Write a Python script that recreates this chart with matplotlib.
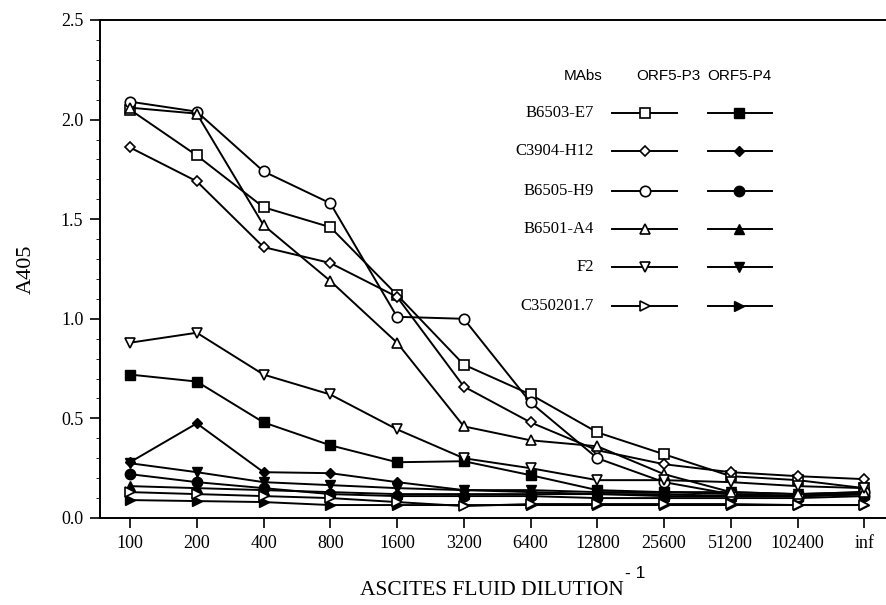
import matplotlib
matplotlib.use("Agg")
import matplotlib.pyplot as plt
from matplotlib.ticker import MultipleLocator

# ---------- data ----------
dilutions = ["100", "200", "400", "800", "1600", "3200", "6400",
             "12800", "25600", "51200", "102400", "inf"]
mabs = ["B6503-E7", "C3904-H12", "B6505-H9", "B6501-A4", "F2", "C350201.7"]
markers = ["s", "D", "o", "^", "v", ">"]

# ORF5-P3 (open markers)
p3_b6503_e7 = [2.05, 1.82, 1.56, 1.46, 1.12, 0.77, 0.62, 0.43, 0.32, 0.21, 0.19, 0.15]
p3_c3904_h12 = [1.86, 1.69, 1.36, 1.28, 1.11, 0.66, 0.48, 0.34, 0.27, 0.23, 0.21, 0.195]
p3_b6505_h9 = [2.09, 2.04, 1.74, 1.58, 1.01, 1.00, 0.58, 0.30, 0.18, 0.12, 0.11, 0.13]
p3_b6501_a4 = [2.06, 2.03, 1.47, 1.19, 0.88, 0.46, 0.39, 0.36, 0.22, 0.13, 0.12, 0.13]
p3_f2 = [0.88, 0.93, 0.72, 0.62, 0.445, 0.30, 0.25, 0.19, 0.19, 0.18, 0.16, 0.15]
p3_c350201_7 = [0.13, 0.12, 0.11, 0.10, 0.08, 0.06, 0.07, 0.07, 0.07, 0.07, 0.065, 0.065]

# ORF5-P4 (filled markers)
p4_b6503_e7 = [0.72, 0.685, 0.48, 0.365, 0.28, 0.285, 0.215, 0.14, 0.13, 0.12, 0.11, 0.12]
p4_c3904_h12 = [0.28, 0.475, 0.23, 0.225, 0.18, 0.14, 0.13, 0.12, 0.12, 0.11, 0.11, 0.12]
p4_b6505_h9 = [0.22, 0.18, 0.15, 0.12, 0.11, 0.11, 0.11, 0.10, 0.10, 0.10, 0.10, 0.11]
p4_b6501_a4 = [0.16, 0.15, 0.14, 0.13, 0.12, 0.12, 0.12, 0.12, 0.11, 0.11, 0.11, 0.12]
p4_f2 = [0.275, 0.23, 0.18, 0.165, 0.15, 0.14, 0.14, 0.13, 0.13, 0.13, 0.12, 0.13]
p4_c350201_7 = [0.09, 0.085, 0.08, 0.065, 0.065, 0.065, 0.065, 0.065, 0.065, 0.065, 0.065, 0.065]

p3 = [p3_b6503_e7, p3_c3904_h12, p3_b6505_h9, p3_b6501_a4, p3_f2, p3_c350201_7]
p4 = [p4_b6503_e7, p4_c3904_h12, p4_b6505_h9, p4_b6501_a4, p4_f2, p4_c350201_7]

serif = "Liberation Serif"
sans = "Liberation Sans"

fig = plt.figure(figsize=(8.87, 6.05), dpi=100)
ax = fig.add_axes([100 / 887, 1 - 518 / 605, 1 - 100 / 887, (518 - 20) / 605])

x = list(range(len(dilutions)))

def msize(m):
    return {"s": 7.5, "D": 5.5, "o": 7.5, "^": 7.5, "v": 7.5, ">": 7.5}[m]

for vals, m in zip(p4, markers):
    ax.plot(x, vals, color="black", lw=1.4, marker=m, ms=msize(m),
            mfc="black", mec="black", zorder=2)
for vals, m in zip(p3, markers):
    ax.plot(x, vals, color="black", lw=1.4, marker=m, ms=msize(m),
            mfc="white", mec="black", mew=1.2, zorder=3)

ax.set_xlim(-0.45, 11.34)
ax.set_ylim(0, 2.5)
ax.set_xticks(x)
ax.set_xticklabels(dilutions, fontfamily=serif, fontsize=13)
ax.yaxis.set_major_locator(MultipleLocator(0.5))
ax.yaxis.set_minor_locator(MultipleLocator(0.1))
ax.set_yticklabels([f"{v:.1f}" for v in ax.get_yticks()], fontfamily=serif, fontsize=13)
ax.tick_params(axis="both", which="major", direction="out", length=7, width=1.2, pad=5)
ax.tick_params(axis="y", which="minor", direction="out", length=3, width=0.6)
for side in ["left", "bottom", "top"]:
    ax.spines[side].set_linewidth(1.4)
ax.spines["right"].set_visible(False)

ax.set_ylabel("A405", fontfamily=serif, fontsize=16, labelpad=18)
fig.text(491.5 / 887, 10 / 605, "ASCITES FLUID DILUTION", fontfamily=serif, fontsize=15.5,
         ha="center", va="baseline")
fig.text(625 / 887, 27 / 605, "- 1", fontfamily=sans, fontsize=12.5, ha="left", va="baseline")

# ---------- hand-built legend ----------
def fx(px):
    return (px - 100) / (887 - 100)

def fy(py):
    return (518 - py) / (518 - 20)

ax.text(fx(583), fy(76), "MAbs", fontfamily=sans, fontsize=11, ha="center", va="center",
        transform=ax.transAxes)
ax.text(fx(668), fy(76), "ORF5-P3", fontfamily=sans, fontsize=11, ha="center", va="center",
        transform=ax.transAxes)
ax.text(fx(739), fy(76), "ORF5-P4", fontfamily=sans, fontsize=11, ha="center", va="center",
        transform=ax.transAxes)

row_y = [113, 151, 191, 229, 267, 306]
for name, m, ry in zip(mabs, markers, row_y):
    ax.text(fx(594), fy(ry), name, fontfamily=serif, fontsize=12, ha="right", va="center",
            transform=ax.transAxes)
    ax.plot([fx(612), fx(677)], [fy(ry), fy(ry)], color="black", lw=1.4,
            transform=ax.transAxes, clip_on=False)
    ax.plot([fx(645)], [fy(ry)], marker=m, ms=msize(m), mfc="white", mec="black", mew=1.2,
            color="black", transform=ax.transAxes, clip_on=False)
    ax.plot([fx(708), fx(772)], [fy(ry), fy(ry)], color="black", lw=1.4,
            transform=ax.transAxes, clip_on=False)
    ax.plot([fx(739)], [fy(ry)], marker=m, ms=msize(m), mfc="black", mec="black",
            color="black", transform=ax.transAxes, clip_on=False)

fig.savefig("out.png", dpi=100)
